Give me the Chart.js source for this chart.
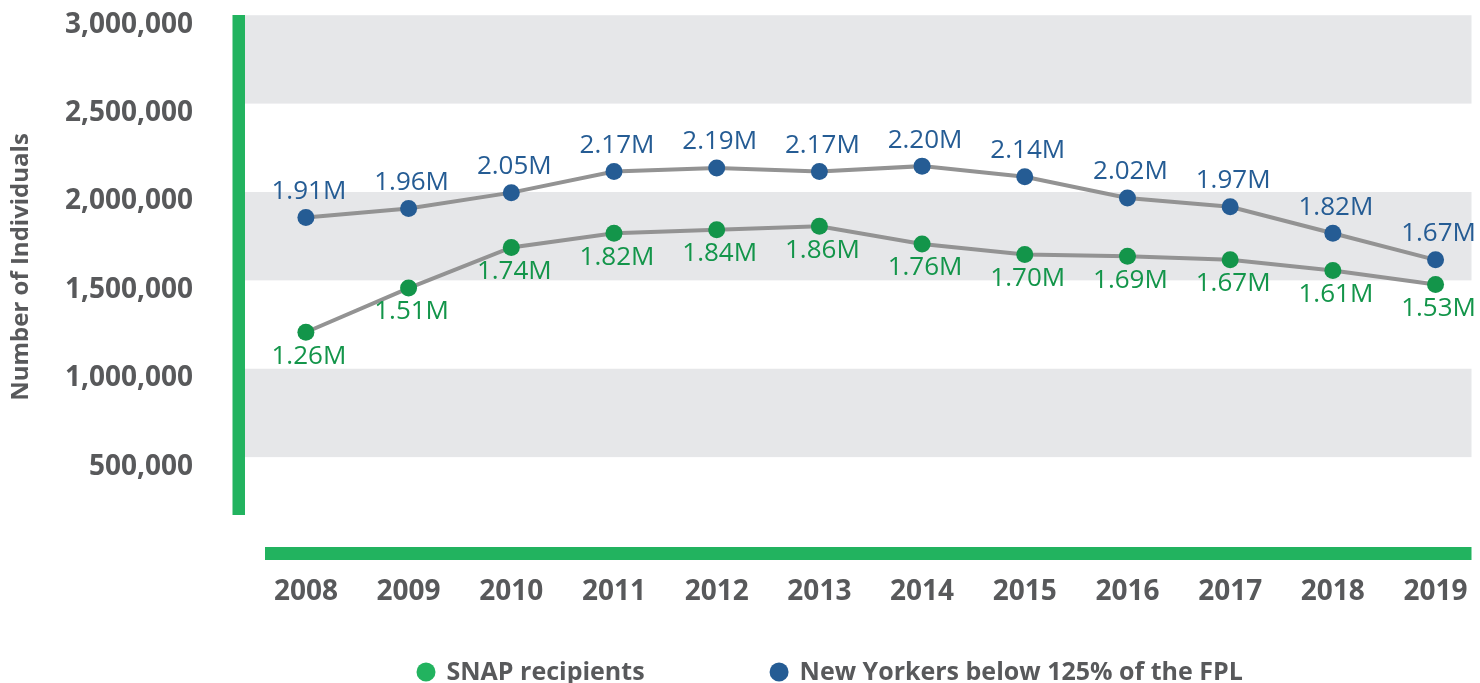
<!DOCTYPE html>
<html>
<head>
<meta charset="utf-8">
<script src="https://cdn.jsdelivr.net/npm/chart.js@4.4.1/dist/chart.umd.min.js"></script>
<style>
html,body{margin:0;padding:0;background:#ffffff;overflow:hidden;}
#wrap{width:1480px;height:683px;position:relative;}
canvas{display:block;}
</style>
</head>
<body>
<div id="wrap"><canvas id="c" width="1480" height="683"></canvas></div>
<script>
// ---- data ----
const years = [2008, 2009, 2010, 2011, 2012, 2013, 2014, 2015, 2016, 2017, 2018, 2019];
const snapRecipients = [1260000, 1510000, 1740000, 1820000, 1840000, 1860000, 1760000, 1700000, 1690000, 1670000, 1610000, 1530000];
const belowFpl125 = [1910000, 1960000, 2050000, 2170000, 2190000, 2170000, 2200000, 2140000, 2020000, 1970000, 1820000, 1670000];
const yTickValues = [500000, 1000000, 1500000, 2000000, 2500000, 3000000];
const seriesNames = ['SNAP recipients', 'New Yorkers below 125% of the FPL'];
const yAxisTitle = 'Number of Individuals';

// ---- styles ----
const FONT = '"Open Sans", "DejaVu Sans", sans-serif';
const TEXT_GREY = '#58595b';
const BAR_GREEN = '#22b35f';
const BAND_GREY = '#e6e7e9';
const LINE_GREY = '#939393';
const BLUE = '#255c94';
const GREEN = '#13954a';

const fmtM = v => (v / 1e6).toFixed(2) + 'M';

const decorPlugin = {
  id: 'decor',
  beforeDraw(chart) {
    const {ctx, chartArea} = chart;
    const y = chart.scales.y;
    const shift = 9.5;
    ctx.save();
    ctx.fillStyle = BAND_GREY;
    [[2500000, 3000000], [1500000, 2000000], [500000, 1000000]].forEach(([lo, hi]) => {
      const top = y.getPixelForValue(hi) - shift;
      const bot = y.getPixelForValue(lo) - shift;
      ctx.fillRect(chartArea.left, top, chartArea.right - chartArea.left, bot - top);
    });
    const y0 = y.getPixelForValue(0);
    ctx.fillStyle = BAR_GREEN;
    // left vertical bar
    ctx.fillRect(chartArea.left - 12.5, chartArea.top, 12.5, (y0 - 40) - chartArea.top);
    // bottom horizontal bar
    ctx.fillRect(chartArea.left + 20, y0 - 8, chartArea.right - chartArea.left - 20, 13);
    ctx.restore();
  },
  afterDatasetsDraw(chart) {
    const {ctx} = chart;
    ctx.save();
    ctx.font = '26px ' + FONT;
    ctx.textAlign = 'center';
    ctx.textBaseline = 'middle';
    chart.data.datasets.forEach((ds, di) => {
      const meta = chart.getDatasetMeta(di);
      const above = ds.labelPos === 'above';
      ctx.fillStyle = ds.labelColor;
      meta.data.forEach((pt, i) => {
        const v = ds.data[i].y;
        ctx.fillText(fmtM(v), pt.x + 3, pt.y + (above ? -26 : 24));
      });
    });
    ctx.restore();
  },
  afterDraw(chart) {
    const {ctx} = chart;
    ctx.save();
    // y axis title
    ctx.translate(21.5, 267);
    ctx.rotate(-Math.PI / 2);
    ctx.font = 'bold 24px ' + FONT;
    ctx.fillStyle = TEXT_GREY;
    ctx.textAlign = 'center';
    ctx.textBaseline = 'middle';
    ctx.fillText(yAxisTitle, 0, 0);
    ctx.restore();

    // legend
    ctx.save();
    ctx.font = 'bold 25px ' + FONT;
    ctx.textBaseline = 'alphabetic';
    ctx.textAlign = 'left';
    const colors = [BAR_GREEN, BLUE];
    let x = 416.5;
    const r = 9.5, dotY = 672, textY = 680, gap = 125;
    seriesNames.forEach((name, i) => {
      ctx.fillStyle = colors[i];
      ctx.beginPath();
      ctx.arc(x + r, dotY, r, 0, Math.PI * 2);
      ctx.fill();
      ctx.fillStyle = TEXT_GREY;
      const tx = x + 2 * r + 11;
      ctx.fillText(name, tx, textY);
      x = tx + ctx.measureText(name).width + gap;
    });
    ctx.restore();
  }
};

const mk = (arr) => arr.map((v, i) => ({x: years[i], y: v}));

new Chart(document.getElementById('c'), {
  type: 'line',
  data: {
    datasets: [
      {
        label: seriesNames[0],
        data: mk(snapRecipients),
        borderColor: LINE_GREY,
        borderWidth: 4,
        pointBackgroundColor: GREEN,
        pointBorderColor: GREEN,
        pointRadius: 8.5,
        pointBorderWidth: 0,
        tension: 0,
        labelColor: GREEN,
        labelPos: 'below'
      },
      {
        label: seriesNames[1],
        data: mk(belowFpl125),
        borderColor: LINE_GREY,
        borderWidth: 4,
        pointBackgroundColor: BLUE,
        pointBorderColor: BLUE,
        pointRadius: 8.5,
        pointBorderWidth: 0,
        tension: 0,
        labelColor: BLUE,
        labelPos: 'above'
      }
    ]
  },
  options: {
    responsive: false,
    animation: false,
    devicePixelRatio: 1,
    layout: {padding: {top: 15, right: 7, left: 0, bottom: 0}},
    plugins: {
      legend: {display: false},
      tooltip: {enabled: false}
    },
    scales: {
      x: {
        type: 'linear',
        min: 2007.407,
        max: 2019.35,
        grid: {display: false, drawTicks: false},
        border: {display: false},
        afterBuildTicks: s => { s.ticks = years.map(v => ({value: v})); },
        afterFit: s => { s.height = 128; s.paddingLeft = 0; s.paddingRight = 0; },
        ticks: {
          autoSkip: false,
          maxRotation: 0,
          padding: 20,
          color: TEXT_GREY,
          font: {family: FONT, size: 28, weight: 'bold'},
          callback: v => String(v)
        }
      },
      y: {
        min: 0,
        max: 3055000,
        grid: {display: false, drawTicks: false},
        border: {display: false},
        afterBuildTicks: s => { s.ticks = yTickValues.map(v => ({value: v})); },
        afterFit: s => { s.width = 245; s.paddingTop = 0; s.paddingBottom = 0; },
        ticks: {
          padding: 52,
          color: TEXT_GREY,
          font: {family: FONT, size: 28, weight: 'bold'},
          callback: v => Number(v).toLocaleString('en-US')
        }
      }
    }
  },
  plugins: [decorPlugin]
});
</script>
</body>
</html>
